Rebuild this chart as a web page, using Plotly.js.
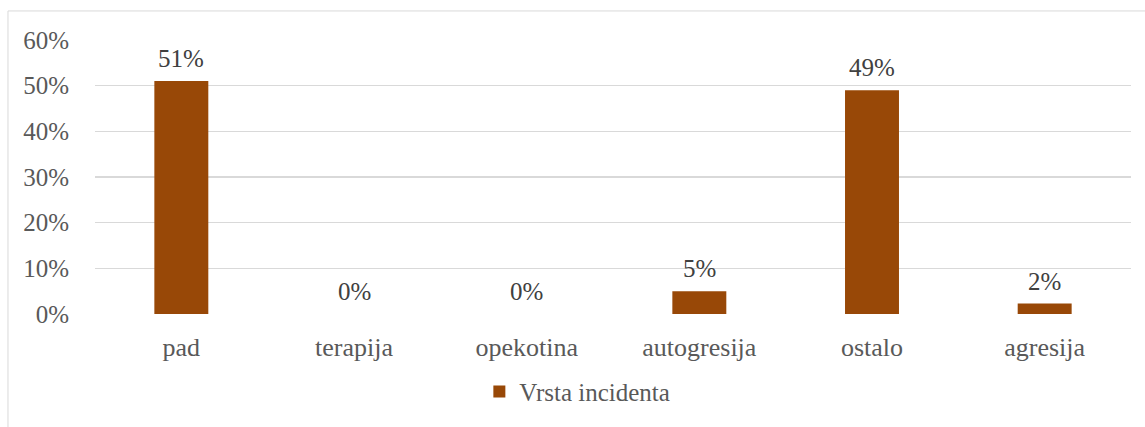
<!DOCTYPE html>
<html>
<head>
<meta charset="utf-8">
<script src="https://cdn.plot.ly/plotly-3.0.1.min.js"></script>
<style>html,body{margin:0;padding:0;background:#fff;}#chart{width:1145px;height:427px;}</style>
</head>
<body>
<div id="chart"></div>
<script>
const categories = ["pad", "terapija", "opekotina", "autogresija", "ostalo", "agresija"];
const values = [0.51, 0.0, 0.0, 0.05, 0.49, 0.023];
const labels = ["51%", "0%", "0%", "5%", "49%", "2%"];
const seriesName = "Vrsta incidenta";
const yTickVals = [0, 0.1, 0.2, 0.3, 0.4, 0.5, 0.6];
const yTickText = ["0%", "10%", "20%", "30%", "40%", "50%", "60%"];

const serif = "Liberation Serif, DejaVu Serif, serif";

const trace = {
  type: "bar",
  x: categories,
  y: values,
  name: seriesName,
  marker: {color: "#984807"},
  hoverinfo: "x+y",
  showlegend: true
};

const annotations = categories.map((c, i) => ({
  x: c,
  y: values[i],
  xref: "x",
  yref: "y",
  text: labels[i],
  showarrow: false,
  yanchor: "bottom",
  yshift: 7,
  font: {family: serif, size: 25, color: "#404040"}
}));

const layout = {
  width: 1145,
  height: 427,
  margin: {l: 95, r: 14, t: 40, b: 113},
  paper_bgcolor: "#ffffff",
  plot_bgcolor: "#ffffff",
  bargap: 0.6875,
  font: {family: serif, color: "#595959", size: 25},
  xaxis: {
    type: "category",
    showgrid: false,
    zeroline: false,
    showline: false,
    ticks: "outside",
    ticklen: 10,
    tickcolor: "rgba(0,0,0,0)",
    tickfont: {family: serif, size: 26, color: "#595959"}
  },
  yaxis: {
    range: [0, 0.6],
    tickvals: yTickVals,
    ticktext: yTickText,
    showgrid: true,
    gridcolor: "#d9d9d9",
    gridwidth: 1.3,
    zeroline: false,
    showline: false,
    ticks: "outside",
    ticklen: 20,
    tickcolor: "rgba(0,0,0,0)",
    tickfont: {family: serif, size: 25, color: "#595959"}
  },
  showlegend: true,
  legend: {
    orientation: "h",
    x: 0.371,
    xanchor: "left",
    y: -0.2,
    yanchor: "top",
    font: {family: serif, size: 25, color: "#595959"},
    bgcolor: "rgba(0,0,0,0)"
  },
  annotations: annotations,
  shapes: [{
    type: "rect",
    xref: "paper", yref: "paper",
    x0: -0.084, x1: 1.2, y0: -1, y1: 1.106,
    line: {color: "#d9d9d9", width: 1},
    fillcolor: "rgba(0,0,0,0)",
    layer: "below"
  }]
};

Plotly.newPlot("chart", [trace], layout, {displayModeBar: false, staticPlot: true});
</script>
</body>
</html>
